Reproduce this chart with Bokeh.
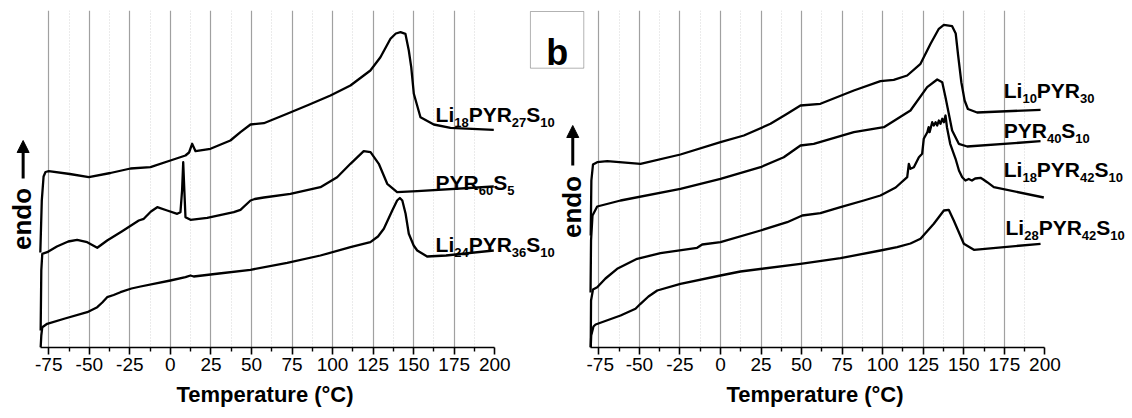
import math
from bokeh.plotting import figure
from bokeh.models import Range1d, FixedTicker, Label, Arrow, NormalHead, BoxAnnotation, Title
from bokeh.layouts import row
from bokeh.embed import file_html
from bokeh.resources import INLINE

# ---------------- data (temperature in °C, heat flow in arbitrary units) ----------------
TICKS = [-75, -50, -25, 0, 25, 50, 75, 100, 125, 150, 175, 200]
MINOR = [-62.5, -37.5, -12.5, 12.5, 37.5, 62.5, 87.5, 112.5, 137.5, 162.5, 187.5]

# panel (a)
a1_name = ["Li", "18", "PYR", "27", "S", "10"]
a1_x = [-80.2, -79.3, -78.2, -77, -75, -62, -50.3, -37, -24.6, -12.3, 0, 9.3, 11.5, 13.4, 15.5,
        24.7, 37, 43.2, 49.4, 57.6, 72, 85, 98.7, 111, 123.3, 129.5, 135.7, 139, 141.9, 144.9,
        147, 148.5, 150.1, 154.2, 162.4, 172.7, 199.4]
a1_y = [9.5, 14.7, 17.1, 17.55, 17.63, 17.35, 17.03, 17.45, 17.9, 18.03, 18.7, 19.2, 19.5, 20.37,
        19.63, 19.87, 20.7, 21.53, 22.3, 22.43, 23.37, 24.25, 25.2, 26.2, 27.7, 29.03, 30.87, 31.4,
        31.53, 31.37, 29.7, 28.03, 25.37, 23.03, 22.3, 21.97, 21.77]

a2_name = ["PYR", "60", "S", "5"]
a2_x = [-80, -79.6, -79, -76, -70, -63, -57.5, -51.3, -45.1, -39, -30, -19.5, -16.4, -12, -8.1,
        -2, 4.2, 6.2, 7.2, 7.9, 8.6, 9.3, 12.4, 22.7, 39.1, 43.2, 49.4, 52, 57.6, 74, 92.5, 102.8,
        111, 119.2, 123.4, 128.5, 133.7, 139.8, 152.2, 199.4]
a2_y = [1.7, 7.7, 9.37, 9.53, 10.1, 10.6, 10.77, 10.53, 9.97, 10.7, 11.6, 12.7, 12.87, 13.6, 14.03,
        13.7, 13.37, 13.53, 15.7, 18.53, 15.7, 13.03, 12.77, 12.97, 13.53, 13.77, 14.7, 14.85, 15.0,
        15.37, 16.03, 17.03, 18.37, 19.63, 19.53, 18.37, 16.37, 15.53, 15.63, 16.1]

a3_name = ["Li", "24", "PYR", "36", "S", "10"]
a3_x = [-80, -79.6, -79, -76, -65, -51.3, -45.1, -42, -39, -35, -30.8, -24, -18.4, 0, 9.3, 12.4,
        14.4, 30, 49.4, 72, 92.5, 111, 123.3, 128, 131.6, 136.8, 139.8, 141.5, 143, 145, 147, 150,
        152.2, 158.3, 170, 199.4]
a3_y = [0, 1.2, 2.03, 2.37, 2.9, 3.53, 4.03, 4.5, 5.03, 5.25, 5.53, 5.9, 6.1, 6.7, 7.03, 7.2, 7.1,
        7.4, 7.77, 8.47, 9.2, 10.03, 10.53, 11.1, 11.87, 13.7, 14.7, 14.95, 14.7, 13.4, 11.37,
        10.2, 9.7, 9.1, 9.2, 9.7]

# panel (b)
b1_name = ["Li", "10", "PYR", "30"]
b1_x = [-80, -79.6, -78.6, -76, -69.8, -49.3, -24.7, 0, 14.4, 30.8, 41.1, 49.3, 61.6, 82.2, 98.6,
        106.8, 115.1, 123.3, 129.5, 134.6, 137.7, 142.8, 145, 146.5, 148.5, 150.5, 152.5, 158.2,
        197.3]
b1_y = [11.2, 16.7, 18.3, 18.53, 18.63, 18.37, 19.3, 20.53, 21.2, 22.37, 23.37, 24.2, 24.37, 25.7,
        26.63, 26.77, 27.2, 28.37, 30.37, 31.87, 32.27, 32.13, 31.4, 29.2, 26.5, 24.7, 23.85,
        23.5, 23.77]

b2_name = ["PYR", "40", "S", "10"]
b2_x = [-80.1, -79.8, -78.9, -76, -61.6, -24.7, 0, 24.7, 39, 49.3, 57.5, 82.2, 100.7, 117.1,
        127.4, 133.6, 136.7, 138.7, 142.8, 146.9, 152.1, 197.3]
b2_y = [5.5, 10.7, 13.2, 14.1, 14.7, 15.87, 16.87, 18.03, 19.03, 20.2, 20.37, 21.53, 22.03, 23.7,
        26.03, 26.8, 26.53, 25.03, 21.7, 20.37, 20.1, 20.63]

b3_name = ["Li", "18", "PYR", "42", "S", "10"]
b3_x = [-80, -79.8, -78.6, -76, -70.9, -63.7, -51.4, -37, -14.4, -11.3, 0, 24.7, 41.1, 50.4,
        61.6, 74, 88.3, 98.6, 108, 115.1, 116.1, 117.1, 119.2, 122.3, 124.3, 125.3, 127.5, 128.3,
        128.9, 130.5, 131.5, 132.6, 133.6, 134.6, 135.6, 136.7, 137.7, 138.7, 139.6, 141.6, 144.9,
        147, 149, 151, 153, 155, 157, 160.3, 162, 164.4, 168.5, 199.3]
b3_y = [0, 4.7, 5.8, 6.03, 6.9, 7.87, 8.87, 9.43, 9.97, 10.3, 10.53, 11.7, 12.53, 13.2, 13.43,
        14.03, 14.7, 15.2, 16.0, 17.03, 18.37, 17.87, 18.03, 19.03, 19.37, 20.87, 21.53, 22.03,
        21.53, 22.53, 22.2, 22.53, 22.2, 22.7, 22.37, 22.87, 22.53, 23.2, 22.03, 20.37, 18.87,
        17.7, 17.03, 16.7, 16.85, 16.7, 16.9, 16.97, 16.8, 16.53, 16.03, 15.0]

b4_name = ["Li", "28", "PYR", "42", "S", "10"]
b4_x = [-80, -79.7, -78.3, -77, -61.6, -52.4, -49.3, -44.4, -39, -24.7, 0, 12.3, 49.3, 74, 98.6,
        108.9, 117.1, 123.3, 131.5, 137.7, 140.7, 143.8, 150, 156.2, 197.3]
b4_y = [0, 1.2, 2.1, 2.3, 3.2, 3.87, 4.37, 5.1, 5.7, 6.37, 7.2, 7.6, 8.37, 8.93, 9.7, 10.03, 10.4,
        10.87, 12.37, 13.7, 13.77, 12.7, 10.37, 9.77, 10.37]

FONT = "Liberation Sans"
WIDTHS = {"L": 0.611, "i": 0.278, "P": 0.667, "Y": 0.667, "R": 0.722, "S": 0.667}


def text_width(s, size):
    return sum(WIDTHS.get(c, 0.556) for c in s) * size


def add_formula(p, x, y, parts, size=21, sub_size=13, drop=0.8):
    off = 0.0
    for i, t in enumerate(parts):
        sub = i % 2 == 1
        fs = sub_size if sub else size
        p.add_layout(Label(x=x, y=y - (drop if sub else 0), x_offset=off, text=t,
                           text_font=FONT, text_font_style="bold",
                           text_font_size=f"{fs}px", text_color="black",
                           text_baseline="alphabetic", text_align="left"))
        off += text_width(t, fs)


def make_fig(width, x0, x1, title_offset):
    p = figure(width=width, height=418, x_range=Range1d(x0, x1), y_range=Range1d(0, 33.7),
               output_backend="svg", toolbar_location=None, y_axis_location=None,
               min_border_left=0, min_border_right=0, min_border_top=10,
               min_border_bottom=71)
    p.outline_line_color = None
    p.background_fill_color = "white"
    p.ygrid.visible = False
    p.xaxis.ticker = FixedTicker(ticks=TICKS, minor_ticks=MINOR)
    p.xaxis.major_label_overrides = {t: str(t) for t in TICKS}
    p.xaxis.bounds = (-80, 200)
    p.xgrid.ticker = FixedTicker(ticks=TICKS[:-1], minor_ticks=MINOR)
    p.xgrid.grid_line_color = "#a0a0a0"
    p.xgrid.grid_line_width = 1.2
    p.xgrid.minor_grid_line_color = "#d6d6d6"
    p.xgrid.minor_grid_line_dash = "1 2"
    ax = p.xaxis[0]
    ax.axis_line_width = 1.6
    ax.axis_line_color = "black"
    ax.major_tick_line_width = 1.6
    ax.major_tick_line_color = "black"
    ax.major_tick_out = 7
    ax.major_tick_in = 0
    ax.minor_tick_line_width = 1.4
    ax.minor_tick_line_color = "black"
    ax.minor_tick_out = 4
    ax.minor_tick_in = 0
    ax.major_label_text_font = FONT
    ax.major_label_text_font_size = "19px"
    ax.major_label_text_color = "black"
    ax.major_label_standoff = 3
    p.add_layout(Title(text="Temperature (°C)", align="left", offset=title_offset,
                       text_font=FONT, text_font_style="bold", text_font_size="22px",
                       text_color="black", standoff=13), "below")
    return p


def add_endo(p, x_text, y_text, x_arrow, y0, y1):
    p.add_layout(Label(x=x_text, y=y_text, text="endo", angle=math.pi / 2,
                       text_font=FONT, text_font_style="bold", text_font_size="26px",
                       text_color="black", text_align="center", text_baseline="alphabetic"))
    p.add_layout(Arrow(end=NormalHead(size=12, fill_color="black", line_color="black"),
                       x_start=x_arrow, y_start=y0, x_end=x_arrow, y_end=y1,
                       line_width=3, line_color="black"))


left = make_fig(586, -104.76, 256.57, 176)
right = make_fig(546, -82.60, 253.98, 140)

for xs, ys in [(a1_x, a1_y), (a2_x, a2_y), (a3_x, a3_y)]:
    left.line(xs, ys, line_color="black", line_width=2.3, line_join="round")
for xs, ys in [(b1_x, b1_y), (b2_x, b2_y), (b3_x, b3_y), (b4_x, b4_y)]:
    right.line(xs, ys, line_color="black", line_width=2.3, line_join="round")

add_formula(left, 163.5, 23.3, a1_name)
add_formula(left, 163.5, 16.55, a2_name)
add_formula(left, 163.5, 10.3, a3_name)

add_formula(right, 174.6, 25.7, b1_name)
add_formula(right, 174.6, 21.7, b2_name)
add_formula(right, 174.6, 17.77, b3_name)
add_formula(right, 175.7, 12.03, b4_name)

# endo arrows (the right panel's one lies in the gap, drawn on the left canvas)
add_endo(left, -91.6, 12.85, -90.8, 16.9, 20.7)
add_endo(left, 247.6, 14.05, 248.1, 18.2, 22.2)

# panel letter "b"
left.add_layout(BoxAnnotation(left=222.0, right=254.9, bottom=27.93, top=33.6,
                              fill_color=None, fill_alpha=0, line_color="black",
                              line_width=1, level="overlay"))
left.add_layout(Label(x=238.5, y=29.53, text="b", text_font=FONT, text_font_style="bold",
                      text_font_size="36px", text_color="black", text_align="center",
                      text_baseline="alphabetic"))

p = row(left, right)
open("out.html", "w").write(file_html(p, INLINE))
